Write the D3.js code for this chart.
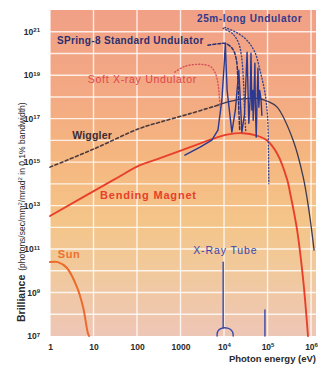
<!DOCTYPE html>
<html>
<head>
<meta charset="utf-8">
<script src="https://cdn.jsdelivr.net/npm/d3@7"></script>
<style>
  body { margin: 0; background: #fff; }
  svg { display: block; font-family: "Liberation Sans", Arial, sans-serif; }
</style>
</head>
<body>
<div id="chart"></div>
<script>
// all curves as [log10(photon energy eV), log10(brilliance)]
const xTicks = [1, 10, 100, 1000, 1e4, 1e5, 1e6];
const xTickLabels = ['1', '10', '100', '1000', '10|4', '10|5', '10|6'];
const yTicks = [1e21, 1e19, 1e17, 1e15, 1e13, 1e11, 1e9, 1e7];
const yTickLabels = ['10|21', '10|19', '10|17', '10|15', '10|13', '10|11', '10|9', '10|7'];

const sun = [[0, 10.40], [0.18, 10.40], [0.39, 10.13], [0.62, 9.25], [0.76, 8.33], [0.87, 7.14], [0.9, 7.0]];

const bendingMagnet = [[0, 12.52], [1.45, 14.17], [2.07, 14.86], [2.53, 15.18], [3.3, 15.75], [3.86, 16.15],
  [4.1, 16.28], [4.44, 16.33], [4.75, 16.22], [4.99, 16.0], [5.22, 15.4], [5.45, 14.2], [5.52, 13.57],
  [5.68, 11.87], [5.82, 9.57], [5.93, 7.0]];

const wigglerDashed = [[0, 14.77], [1.0, 15.6], [2.07, 16.56], [2.53, 16.84], [3.2, 17.22], [3.86, 17.62]];
const wiggler = [[3.86, 17.62], [4.07, 17.76], [4.4, 17.9], [4.76, 17.94], [5.0, 17.8], [5.22, 17.53],
  [5.59, 16.0], [5.82, 14.31], [5.95, 12.8], [6.07, 10.95]];

const softXray = [[2.87, 19.14], [3.1, 19.41], [3.45, 19.5], [3.68, 19.41], [3.79, 19.14], [3.86, 18.63],
  [3.89, 18.08], [3.91, 17.53]];

const standardUndulator = [[3.63, 20.38], [3.9, 20.45], [4.05, 20.45], [4.2, 20.2], [4.28, 19.75],
  [4.32, 18.75], [4.34, 17.4], [4.36, 16.5]];

const envelopeA = [[3.98, 21.16], [4.2, 20.9], [4.33, 20.5], [4.4, 19.9], [4.45, 18.6], [4.47, 17.4], [4.5, 16.4]];
const envelopeB = [[4.02, 21.2], [4.3, 20.95], [4.53, 20.6], [4.71, 20.05], [4.83, 19.2], [4.94, 18.2],
  [5.0, 17.1], [5.02, 15.6], [5.03, 14.0]];

const longUndulator = [[3.10, 15.32], [3.45, 15.69], [3.72, 16.01], [3.86, 16.47], [3.95, 17.85], [4.01, 19.69],
  [4.03, 20.47], [4.07, 18.31], [4.18, 16.38], [4.26, 17.39], [4.34, 19.23], [4.41, 16.38], [4.47, 17.2],
  [4.53, 20.06], [4.56, 17.6], [4.57, 16.79], [4.6, 17.9], [4.62, 20.01], [4.64, 17.4], [4.66, 18.3],
  [4.67, 16.93], [4.69, 18.2], [4.71, 19.55], [4.72, 17.6], [4.74, 16.15], [4.76, 17.9], [4.78, 19.32],
  [4.8, 17.53], [4.82, 18.3], [4.85, 17.9], [4.87, 17.16]];

const tubeLine1 = [[3.98, 10.4], [3.98, 7.37]];
const tubeArc = [[3.84, 7.0], [3.845, 7.15], [3.88, 7.28], [3.94, 7.35], [4.0, 7.38], [4.08, 7.36],
  [4.15, 7.3], [4.2, 7.17], [4.21, 7.0]];
const tubeLine2 = [[4.94, 8.2], [4.94, 7.0]];

const labels = [
  { text: '25m-long Undulator', at: [3.38, 21.44], color: '#2f3a8c', size: 10, weight: 'bold', ls: 0.6 },
  { text: 'SPring-8 Standard Undulator', at: [0.16, 20.43], color: '#2a2f6e', size: 10, weight: 'bold', ls: 0.35 },
  { text: 'Soft X-ray Undulator', at: [0.87, 18.63], color: '#e0454c', size: 10.5, weight: 'normal', ls: 0.7 },
  { text: 'Wiggler', at: [0.51, 16.06], color: '#3b2b33', size: 10.5, weight: 'bold', ls: 0.2 },
  { text: 'Bending Magnet', at: [1.15, 13.3], color: '#e8402a', size: 11, weight: 'bold', ls: 0.8 },
  { text: 'Sun', at: [0.18, 10.59], color: '#ec7030', size: 11, weight: 'bold', ls: 0.5 },
  { text: 'X-Ray Tube', at: [3.29, 10.77], color: '#3848a8', size: 10.5, weight: 'normal', ls: 0.9 }
];

const W = 320, H = 367;
const margin = { top: 10, right: 4, bottom: 31, left: 50 };

const svg = d3.select('#chart').append('svg')
  .attr('width', W)
  .attr('height', H);

const x = d3.scaleLog().domain([1, 1.3e6]).range([margin.left, W - margin.right]);
const y = d3.scaleLog().domain([1e7, 1e22]).range([H - margin.bottom, margin.top]);

const toVal = (d) => [Math.pow(10, d[0]), Math.pow(10, d[1])];

// background gradient
const defs = svg.append('defs');
const grad = defs.append('linearGradient')
  .attr('id', 'bg')
  .attr('x1', 0).attr('y1', 0).attr('x2', 0).attr('y2', 1);
[[0, '#f1a086'], [0.25, '#f3a983'], [0.45, '#f5b67f'], [0.65, '#f4c589'], [0.8, '#f1c99c'], [1, '#eec6b6']]
  .forEach(([o, c]) => grad.append('stop').attr('offset', o).attr('stop-color', c));

const plotW = x.range()[1] - x.range()[0];
const plotH = y.range()[0] - y.range()[1];

svg.append('rect')
  .attr('x', margin.left)
  .attr('y', margin.top)
  .attr('width', plotW)
  .attr('height', plotH)
  .attr('fill', 'url(#bg)');

// grid
const grid = svg.append('g').attr('class', 'grid');
d3.range(0, 7).forEach((p) => {
  grid.append('line')
    .attr('x1', x(Math.pow(10, p))).attr('x2', x(Math.pow(10, p)))
    .attr('y1', margin.top).attr('y2', y.range()[0])
    .attr('stroke', '#fff').attr('stroke-opacity', 0.8).attr('stroke-width', 1.4);
});
d3.range(8, 22).forEach((p) => {
  grid.append('line')
    .attr('x1', margin.left).attr('x2', x.range()[1])
    .attr('y1', y(Math.pow(10, p))).attr('y2', y(Math.pow(10, p)))
    .attr('stroke', '#fff').attr('stroke-opacity', 0.8).attr('stroke-width', 1.4);
});

// axes
function supLabel(sel, lbls) {
  sel.selectAll('text').each(function (d, i) {
    const t = d3.select(this);
    const parts = lbls[i].split('|');
    t.text(parts[0]);
    if (parts[1]) {
      t.append('tspan').attr('font-size', 6).attr('dy', '-0.45em').text(parts[1]);
    }
  });
}

const xAxis = svg.append('g')
  .attr('transform', `translate(0,${y.range()[0]})`)
  .call(d3.axisBottom(x).tickValues(xTicks).tickSize(0).tickPadding(8));
xAxis.select('.domain').remove();
xAxis.selectAll('text').attr('font-size', 8.5).attr('fill', '#2a2a2a').attr('font-weight', 'bold');
supLabel(xAxis, xTickLabels);

const yAxis = svg.append('g')
  .attr('transform', `translate(${margin.left},0)`)
  .call(d3.axisLeft(y).tickValues(yTicks).tickSize(0).tickPadding(10));
yAxis.select('.domain').remove();
yAxis.selectAll('text').attr('font-size', 8.5).attr('fill', '#2a2a2a').attr('font-weight', 'bold');
supLabel(yAxis, yTickLabels);

// axis titles
svg.append('text')
  .attr('x', x.range()[1])
  .attr('y', H - 5)
  .attr('text-anchor', 'end')
  .attr('font-size', 9.5)
  .attr('font-weight', 'bold')
  .attr('fill', '#2a2a2a')
  .text('Photon energy (eV)');

const yTitle = svg.append('text')
  .attr('transform', `translate(25,${y(1e7) - 14}) rotate(-90)`)
  .attr('fill', '#2a2a2a');
yTitle.append('tspan').attr('font-size', 10.5).attr('font-weight', 'bold').text('Brilliance');
yTitle.append('tspan').attr('font-size', 8.5).attr('dx', 4).text('(photons/sec/mm');
yTitle.append('tspan').attr('font-size', 6).attr('dy', -3).text('2');
yTitle.append('tspan').attr('font-size', 8.5).attr('dy', 3).text('/mrad');
yTitle.append('tspan').attr('font-size', 6).attr('dy', -3).text('2');
yTitle.append('tspan').attr('font-size', 8.5).attr('dy', 3).text(' in 0.1% bandwidth)');

// curves
const line = d3.line()
  .x((d) => x(toVal(d)[0]))
  .y((d) => y(toVal(d)[1]));
const basis = d3.line()
  .curve(d3.curveCatmullRom)
  .x((d) => x(toVal(d)[0]))
  .y((d) => y(toVal(d)[1]));

const curves = svg.append('g').attr('fill', 'none').attr('stroke-linecap', 'round');

curves.append('path').datum(sun).attr('d', basis)
  .attr('stroke', '#ec6a2c').attr('stroke-width', 2);
curves.append('path').datum(bendingMagnet).attr('d', basis)
  .attr('stroke', '#e8402a').attr('stroke-width', 1.9);
curves.append('path').datum(wigglerDashed).attr('d', basis)
  .attr('stroke', '#4c3a3c').attr('stroke-width', 1.6).attr('stroke-dasharray', '3,2.5');
curves.append('path').datum(wiggler).attr('d', basis)
  .attr('stroke', '#3c3a52').attr('stroke-width', 1.3);
curves.append('path').datum(softXray).attr('d', basis)
  .attr('stroke', '#d8505a').attr('stroke-width', 1.4).attr('stroke-dasharray', '1,2.2');
curves.append('path').datum(standardUndulator).attr('d', basis)
  .attr('stroke', '#2a2f6e').attr('stroke-width', 1.5).attr('stroke-dasharray', '3,2');
curves.append('path').datum(envelopeA).attr('d', basis)
  .attr('stroke', '#3a4590').attr('stroke-width', 1.4).attr('stroke-dasharray', '1,2.2');
curves.append('path').datum(envelopeB).attr('d', basis)
  .attr('stroke', '#3a4590').attr('stroke-width', 1.4).attr('stroke-dasharray', '1,2.2');
curves.append('path').datum(longUndulator).attr('d', line)
  .attr('stroke', '#2b3990').attr('stroke-width', 1.4).attr('stroke-linejoin', 'round');

curves.append('path').datum(tubeLine1).attr('d', line)
  .attr('stroke', '#3848a8').attr('stroke-width', 1.4);
curves.append('path').datum(tubeArc).attr('d', basis)
  .attr('stroke', '#3848a8').attr('stroke-width', 1.4);
curves.append('path').datum(tubeLine2).attr('d', line)
  .attr('stroke', '#3848a8').attr('stroke-width', 1.4);

// labels
svg.append('g').selectAll('text')
  .data(labels)
  .join('text')
  .attr('x', (d) => x(toVal(d.at)[0]))
  .attr('y', (d) => y(toVal(d.at)[1]))
  .attr('font-size', (d) => d.size)
  .attr('font-weight', (d) => d.weight)
  .attr('letter-spacing', (d) => d.ls)
  .attr('fill', (d) => d.color)
  .text((d) => d.text);
</script>
</body>
</html>
